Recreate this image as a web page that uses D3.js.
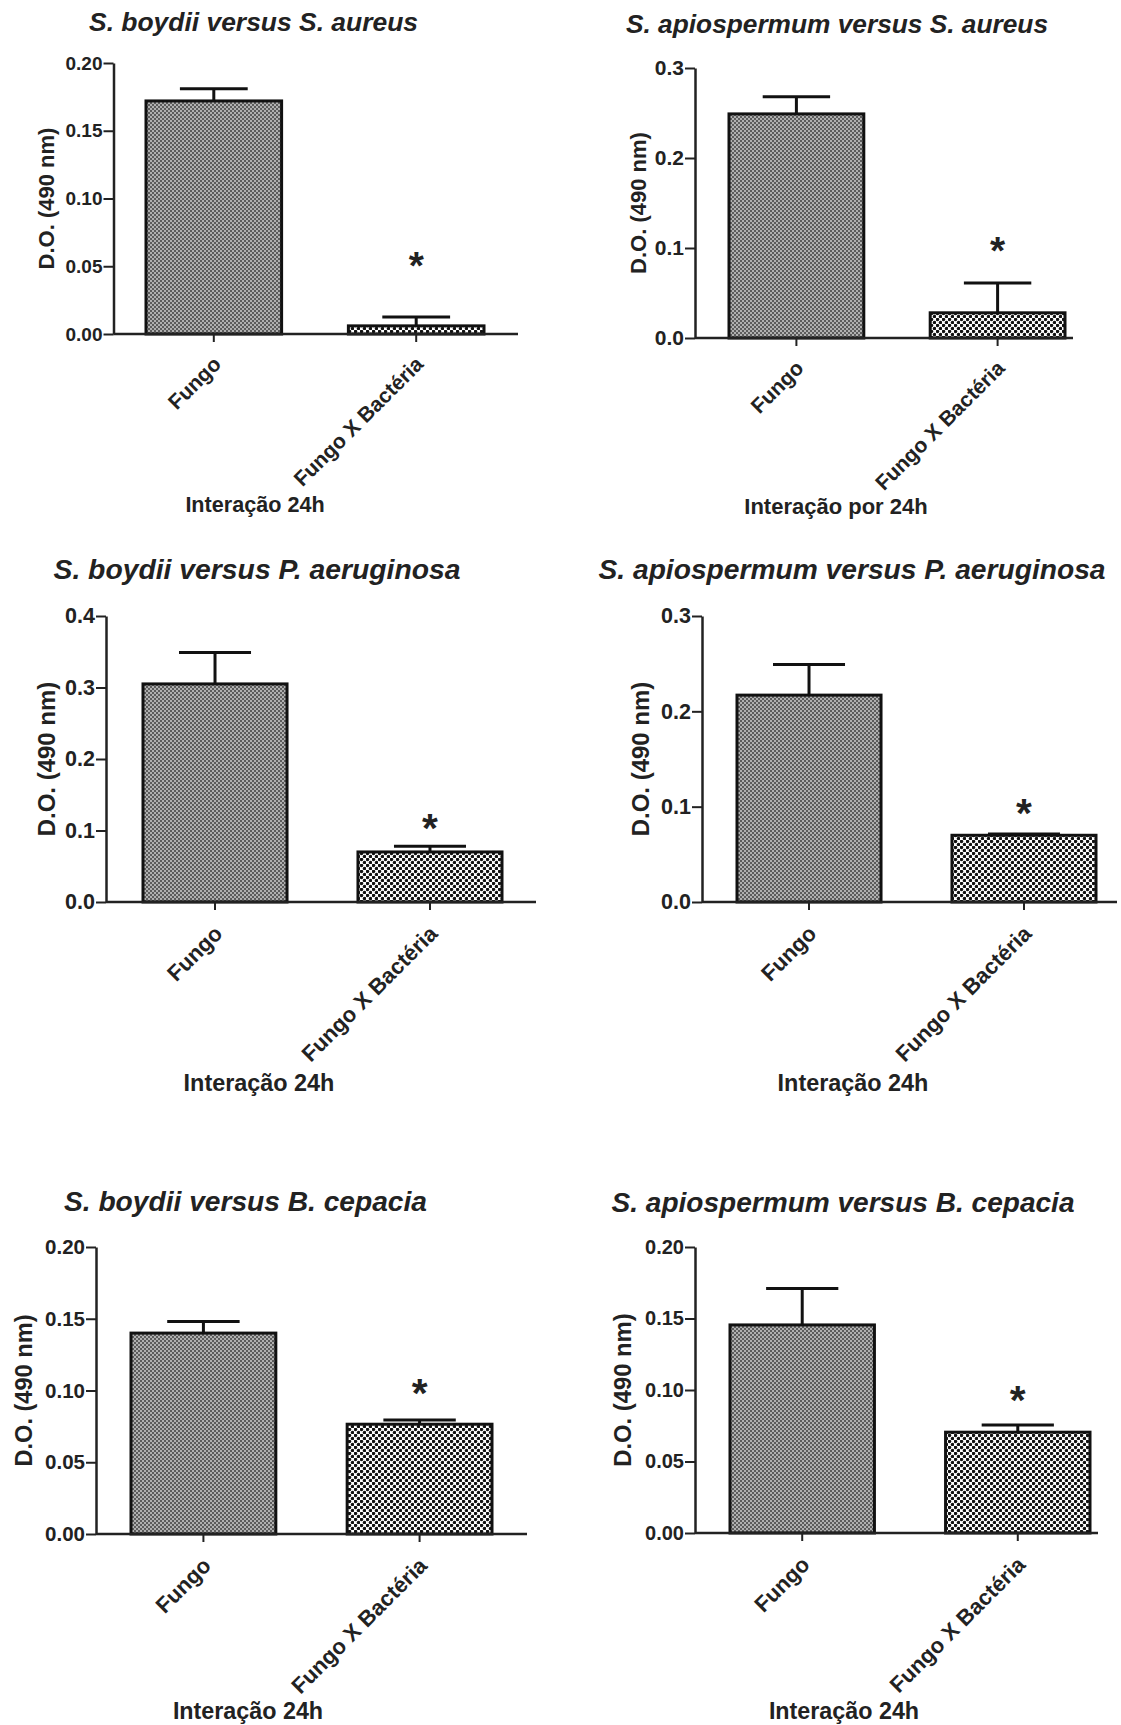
<!DOCTYPE html>
<html>
<head>
<meta charset="utf-8">
<script src="https://cdn.jsdelivr.net/npm/d3@7"></script>
<style>
  body { margin: 0; background: #fff; }
  svg text { font-family: "Liberation Sans", Arial, sans-serif; font-weight: bold; fill: #222; }
</style>
</head>
<body>
<div id="fig"></div>
<script>
// data (D.O. at 490 nm, mean + upper error)
var categories = ["Fungo", "Fungo X Bactéria"];
var titles = ["S. boydii versus S. aureus", "S. apiospermum versus S. aureus",
              "S. boydii versus P. aeruginosa", "S. apiospermum versus P. aeruginosa",
              "S. boydii versus B. cepacia", "S. apiospermum versus B. cepacia"];
var xTitles = ["Interação 24h", "Interação por 24h", "Interação 24h",
               "Interação 24h", "Interação 24h", "Interação 24h"];
var yTitle = "D.O. (490 nm)";
var fungoMean = [0.172, 0.249, 0.305, 0.217, 0.140, 0.1455];
var fungoErr  = [0.009, 0.019, 0.044, 0.032, 0.008, 0.0255];
var bactMean  = [0.006, 0.028, 0.070, 0.070, 0.0765, 0.0705];
var bactErr   = [0.0065, 0.033, 0.008, 0.0012, 0.003, 0.005];
var yMax   = [0.20, 0.3, 0.4, 0.3, 0.20, 0.20];
var yStep  = [0.05, 0.1, 0.1, 0.1, 0.05, 0.05];
var yFmt   = [".2f", ".1f", ".1f", ".1f", ".2f", ".2f"];
var starAt = [0.057, 0.107, 0.117, 0.103, 0.105, 0.100];

// where each panel sits on the page, and its font sizes
var frames = [
  {ax:113.5, top:63,   bot:334,  b0:146, b1:484,  end:518,  tx:253.5, ty:31,   tw:329, fT:26.5, ylx:46,  xtx:255, xty:512,  ft:19,   fl:22,   fc:21, fx:21.6},
  {ax:695,   top:68,   bot:338,  b0:729, b1:1065, end:1073, tx:837,   ty:33,   tw:422, fT:26.5, ylx:638, xtx:836, xty:514,  ft:21,   fl:22,   fc:21, fx:22},
  {ax:106,   top:616,  bot:902,  b0:143, b1:502,  end:536,  tx:257,   ty:579,  tw:407, fT:28,   ylx:46,  xtx:259, xty:1091, ft:21.5, fl:24,   fc:22, fx:23.4},
  {ax:702,   top:616,  bot:902,  b0:737, b1:1096, end:1117, tx:852,   ty:579,  tw:507, fT:28,   ylx:640, xtx:853, xty:1091, ft:21.5, fl:24,   fc:22, fx:23.4},
  {ax:96,    top:1247, bot:1534, b0:131, b1:492,  end:527,  tx:245.5, ty:1211, tw:363, fT:28,   ylx:23,  xtx:248, xty:1719, ft:20.5, fl:23.6, fc:22, fx:23.3},
  {ax:695,   top:1247, bot:1533, b0:730, b1:1090, end:1098, tx:843,   ty:1212, tw:463, fT:28.5, ylx:622, xtx:844, xty:1719, ft:20,   fl:23.8, fc:22, fx:23.3}
];

var width = 1121, height = 1725;
var ink = "#222";

var svg = d3.select("#fig").append("svg")
    .attr("width", width)
    .attr("height", height);

// fill patterns
var defs = svg.append("defs");
var pFine = defs.append("pattern")
    .attr("id", "fine").attr("patternUnits", "userSpaceOnUse")
    .attr("width", 4).attr("height", 4);
pFine.append("rect").attr("width", 4).attr("height", 4).attr("fill", "#b0b0b0");
pFine.append("rect").attr("width", 2).attr("height", 2).attr("fill", "#5c5c5c");
pFine.append("rect").attr("x", 2).attr("y", 2).attr("width", 2).attr("height", 2).attr("fill", "#5c5c5c");

var pDots = defs.append("pattern")
    .attr("id", "dots").attr("patternUnits", "userSpaceOnUse")
    .attr("width", 6).attr("height", 6);
pDots.append("rect").attr("width", 6).attr("height", 6).attr("fill", "#fff");
pDots.append("circle").attr("cx", 1.5).attr("cy", 1.5).attr("r", 1.75).attr("fill", "#111");
pDots.append("circle").attr("cx", 4.5).attr("cy", 4.5).attr("r", 1.75).attr("fill", "#111");

var fills = ["url(#fine)", "url(#dots)"];

frames.forEach(function(f, p) {
    var rows = [
        {cat: categories[0], mean: fungoMean[p], err: fungoErr[p]},
        {cat: categories[1], mean: bactMean[p],  err: bactErr[p]}
    ];

    var x = d3.scaleBand().domain(categories).range([f.b0, f.b1])
        .paddingInner(0.33).paddingOuter(0);
    var y = d3.scaleLinear().domain([0, yMax[p]]).range([f.bot, f.top]);

    var g = svg.append("g");

    // bars
    g.selectAll("rect.bar")
        .data(rows)
        .enter()
        .append("rect")
        .attr("class", "bar")
        .attr("x", function(d) { return x(d.cat); })
        .attr("y", function(d) { return y(d.mean); })
        .attr("width", x.bandwidth())
        .attr("height", function(d) { return y(0) - y(d.mean); })
        .attr("fill", function(d, i) { return fills[i]; })
        .attr("stroke", "#111")
        .attr("stroke-width", 3);

    // error bars (upper only)
    var eb = g.selectAll("g.err")
        .data(rows)
        .enter()
        .append("g")
        .attr("class", "err")
        .attr("stroke", "#111")
        .attr("stroke-width", 3);
    eb.append("line")
        .attr("x1", function(d) { return x(d.cat) + x.bandwidth() / 2; })
        .attr("x2", function(d) { return x(d.cat) + x.bandwidth() / 2; })
        .attr("y1", function(d) { return y(d.mean); })
        .attr("y2", function(d) { return y(d.mean + d.err); });
    eb.append("line")
        .attr("x1", function(d) { return x(d.cat) + x.bandwidth() / 4; })
        .attr("x2", function(d) { return x(d.cat) + x.bandwidth() * 3 / 4; })
        .attr("y1", function(d) { return y(d.mean + d.err); })
        .attr("y2", function(d) { return y(d.mean + d.err); });

    // significance star
    g.append("text")
        .attr("x", x(categories[1]) + x.bandwidth() / 2)
        .attr("y", y(starAt[p]))
        .attr("dy", "0.58em")
        .attr("text-anchor", "middle")
        .style("font-size", (f.fc * 1.85) + "px")
        .text("*");

    // y axis
    var ticks = d3.range(0, yMax[p] + yStep[p] / 2, yStep[p]);
    var yAxis = d3.axisLeft(y).tickValues(ticks).tickFormat(d3.format(yFmt[p]))
        .tickSize(10).tickSizeOuter(0).tickPadding(1);
    var ya = g.append("g")
        .attr("transform", "translate(" + f.ax + ",0)")
        .call(yAxis);
    ya.select(".domain").attr("stroke", ink).attr("stroke-width", 2.5);
    ya.selectAll(".tick line").attr("stroke", ink).attr("stroke-width", 2);
    ya.selectAll(".tick text").attr("fill", ink)
        .style("font-size", f.ft + "px").style("font-family", "Liberation Sans, Arial, sans-serif")
        .style("font-weight", "bold");

    // x axis: baseline runs past the bars
    g.append("line")
        .attr("x1", f.ax).attr("x2", f.end)
        .attr("y1", f.bot).attr("y2", f.bot)
        .attr("stroke", ink).attr("stroke-width", 2.5);
    var xAxis = d3.axisBottom(x).tickSize(8).tickSizeOuter(0);
    var xa = g.append("g")
        .attr("transform", "translate(0," + f.bot + ")")
        .call(xAxis);
    xa.select(".domain").remove();
    xa.selectAll(".tick line").attr("stroke", ink).attr("stroke-width", 2);
    var s = f.fc / 20;
    xa.selectAll(".tick text")
        .attr("x", null).attr("y", null).attr("dy", null)
        .attr("fill", ink)
        .attr("text-anchor", "end")
        .attr("transform", "translate(" + (8 * s) + "," + (30 * s) + ") rotate(-45)")
        .style("font-size", f.fc + "px")
        .style("font-family", "Liberation Sans, Arial, sans-serif")
        .style("font-weight", "bold");

    // y title
    g.append("text")
        .attr("transform", "translate(" + f.ylx + "," + ((f.top + f.bot) / 2) + ") rotate(-90)")
        .attr("dy", "0.36em")
        .attr("text-anchor", "middle")
        .style("font-size", f.fl + "px")
        .text(yTitle);

    // x title
    g.append("text")
        .attr("x", f.xtx).attr("y", f.xty)
        .attr("text-anchor", "middle")
        .style("font-size", f.fx + "px")
        .text(xTitles[p]);

    // panel title
    g.append("text")
        .attr("x", f.tx).attr("y", f.ty)
        .attr("text-anchor", "middle")
        .attr("textLength", f.tw)
        .attr("lengthAdjust", "spacingAndGlyphs")
        .style("font-style", "italic")
        .style("font-size", f.fT + "px")
        .text(titles[p]);
});
</script>
</body>
</html>
